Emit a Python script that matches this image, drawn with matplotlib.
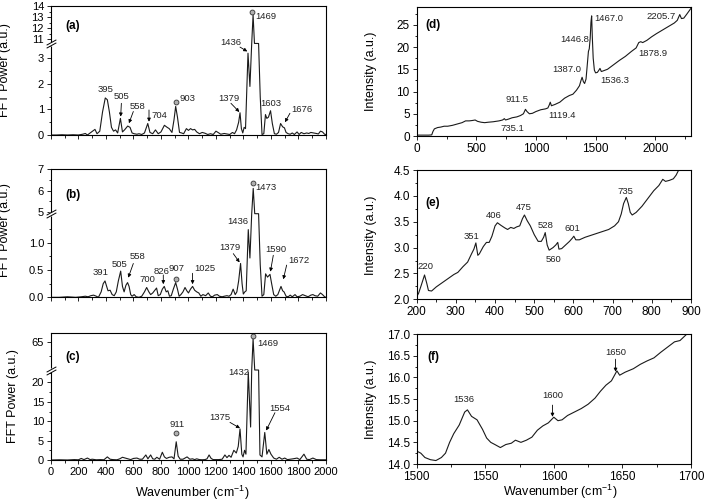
import numpy as np
import matplotlib
matplotlib.use('Agg')
import matplotlib.pyplot as plt
from matplotlib.ticker import MultipleLocator, FixedLocator
from matplotlib.transforms import ScaledTranslation

plt.rcParams['font.family'] = ['Liberation Sans', 'DejaVu Sans']
plt.rcParams['mathtext.default'] = 'regular'

# ---- FFT power spectra (left column) ----
wn_a = [0, 40, 80, 120, 160, 200, 230, 250, 265, 290, 320, 335, 355, 375, 395, 410, 425, 440,
        455, 470, 485, 505, 520, 535, 558, 575, 590, 605, 625, 640, 660, 680, 704, 720, 740,
        760, 780, 800, 825, 845, 860, 880, 895, 907, 920, 935, 950, 965, 985, 1000, 1015, 1030,
        1045, 1060, 1080, 1100, 1120, 1140, 1160, 1180, 1200, 1215, 1235, 1260, 1280, 1300,
        1320, 1335, 1350, 1365, 1375, 1385, 1395, 1405, 1415, 1433, 1447, 1460, 1470, 1480,
        1495, 1510, 1522, 1535, 1548, 1560, 1570, 1582, 1597, 1610, 1625, 1640, 1655, 1670,
        1685, 1698, 1710, 1725, 1740, 1755, 1770, 1790, 1805, 1820, 1840, 1860, 1875, 1890,
        1910, 1930, 1945, 1960, 1975, 1990, 2000]
pw_a = [0.0, 0.0, 0.01, 0.0, 0.01, 0.0, 0.03, 0.06, 0.0, 0.1, 0.22, 0.05, 0.15, 0.9, 1.45, 1.38,
        0.9, 0.3, 0.15, 0.2, 0.08, 0.65, 0.12, 0.2, 0.35, 0.3, 0.08, 0.05, 0.03, 0.05, 0.02,
        0.08, 0.45, 0.1, 0.05, 0.2, 0.05, 0.12, 0.38, 0.3, 0.25, 0.1, 0.6, 1.12, 0.7, 0.1,
        0.08, 0.05, 0.25, 0.18, 0.25, 0.2, 0.22, 0.12, 0.05, 0.1, 0.07, 0.02, 0.05, 0.02,
        0.15, 0.1, 0.03, 0.06, 0.04, 0.02, 0.1, 0.05, 0.2, 0.5, 0.87, 0.25, 0.08, 0.3, 0.25,
        3.2, 1.9, 5.5, 13.2, 8.0, 6.0, 4.5, 1.5, 0.02, 0.05, 0.8, 0.65, 0.7, 0.95, 0.45, 0.05,
        0.03, 0.1, 0.45, 0.32, 0.28, 0.1, 0.05, 0.03, 0.08, 0.02, 0.12, 0.02, 0.1, 0.05, 0.08,
        0.06, 0.1, 0.08, 0.06, 0.04, 0.15, 0.12, 0.03, 0.02]

wn_b = [0, 60, 120, 180, 220, 250, 270, 290, 310, 330, 345, 365, 380, 393, 405, 415, 430, 445,
        460, 475, 490, 507, 520, 532, 545, 557, 568, 580, 590, 605, 620, 640, 660, 680, 696,
        712, 725, 740, 768, 780, 795, 810, 824, 838, 850, 862, 875, 890, 907, 920, 932, 945,
        960, 975, 988, 1000, 1015, 1030, 1045, 1060, 1075, 1090, 1105, 1125, 1144, 1160, 1175,
        1190, 1210, 1225, 1245, 1260, 1280, 1295, 1310, 1325, 1340, 1352, 1365, 1379, 1390,
        1399, 1410, 1420, 1435, 1447, 1460, 1471, 1482, 1495, 1510, 1522, 1535, 1548, 1561,
        1575, 1593, 1605, 1620, 1635, 1650, 1673, 1685, 1695, 1710, 1725, 1740, 1755, 1775,
        1790, 1810, 1830, 1850, 1870, 1890, 1905, 1920, 1940, 1960, 1975, 1990, 2000]
pw_b = [0.0, 0.0, 0.01, 0.0, 0.01, 0.02, 0.01, 0.03, 0.04, 0.02, 0.0, 0.1, 0.25, 0.3, 0.2, 0.12,
        0.13, 0.05, 0.03, 0.1, 0.3, 0.48, 0.2, 0.1, 0.22, 0.27, 0.2, 0.05, 0.02, 0.05, 0.01,
        0.0, 0.02, 0.1, 0.18, 0.1, 0.05, 0.08, 0.17, 0.03, 0.05, 0.15, 0.2, 0.1, 0.12, 0.02,
        0.03, 0.15, 0.27, 0.15, 0.02, 0.05, 0.1, 0.18, 0.12, 0.08, 0.15, 0.2, 0.13, 0.1, 0.08,
        0.02, 0.05, 0.03, 0.08, 0.02, 0.01, 0.04, 0.05, 0.02, 0.01, 0.02, 0.03, 0.02, 0.05,
        0.15, 0.05, 0.1, 0.3, 0.62, 0.25, 0.06, 0.1, 0.12, 1.24, 0.72, 3.0, 6.1, 4.0, 3.0,
        2.5, 0.6, 0.02, 0.05, 0.43, 0.37, 0.42, 0.25, 0.05, 0.02, 0.05, 0.2, 0.12, 0.1, 0.02,
        0.01, 0.04, 0.01, 0.05, 0.01, 0.02, 0.05, 0.03, 0.01, 0.04, 0.05, 0.03, 0.02, 0.08,
        0.05, 0.01, 0.0]

wn_c = [0, 60, 120, 170, 200, 220, 240, 265, 285, 300, 330, 360, 385, 410, 430, 450, 480, 500,
        520, 540, 560, 580, 600, 625, 645, 665, 690, 705, 725, 740, 755, 770, 790, 810, 825,
        840, 860, 880, 895, 911, 925, 940, 960, 990, 1010, 1030, 1045, 1060, 1080, 1100, 1120,
        1135, 1150, 1165, 1180, 1200, 1220, 1245, 1265, 1280, 1295, 1310, 1330, 1348, 1362,
        1375, 1388, 1397, 1408, 1418, 1435, 1452, 1460, 1470, 1482, 1495, 1510, 1520, 1535,
        1555, 1570, 1585, 1600, 1620, 1640, 1660, 1680, 1700, 1720, 1740, 1760, 1790, 1810,
        1840, 1860, 1880, 1905, 1930, 1960, 2000]
pw_c = [0.0, 0.05, 0.0, 0.1, 0.05, 0.4, 0.1, 0.5, 0.1, 0.2, 0.05, 0.1, 0.05, 0.8, 0.2, 0.1, 0.05,
        0.3, 0.7, 0.5, 0.3, 0.1, 0.4, 0.5, 0.2, 0.2, 1.3, 0.3, 1.3, 0.3, 0.2, 0.7, 0.2, 2.0,
        0.8, 0.4, 0.7, 0.8, 0.3, 4.7, 1.0, 0.2, 0.2, 0.8, 0.2, 0.3, 0.1, 0.3, 0.1, 0.05, 0.1,
        0.3, 1.3, 0.4, 0.1, 0.1, 0.1, 0.2, 1.3, 0.6, 1.2, 0.7, 2.5, 1.8, 3.5, 8.0, 1.5, 0.8,
        2.5, 1.5, 22.7, 8.5, 30.0, 65.6, 40.0, 35.0, 25.0, 1.3, 0.8, 7.1, 1.5, 2.7, 1.5, 0.5,
        0.2, 0.7, 0.2, 0.5, 0.1, 0.2, 0.3, 0.5, 0.1, 1.5, 0.2, 0.1, 0.5, 0.1, 0.05, 0.05]

# ---- Raman intensity (right column) ----
wn_d = [0, 50, 100, 126, 136, 148, 175, 200, 230, 260, 300, 340, 380, 410, 440, 470, 490, 510,
        540, 570, 600, 640, 690, 720, 735, 745, 770, 800, 840, 870, 895, 912, 925, 945, 970,
        1000, 1040, 1080, 1100, 1112, 1120, 1130, 1160, 1200, 1240, 1280, 1310, 1340, 1365,
        1378, 1387, 1398, 1408, 1420, 1432, 1440, 1447, 1455, 1461, 1467, 1473, 1480, 1490,
        1500, 1515, 1528, 1537, 1548, 1560, 1600, 1650, 1700, 1750, 1800, 1840, 1862, 1879,
        1895, 1930, 1970, 2010, 2060, 2110, 2160, 2185, 2206, 2220, 2240, 2265, 2300]
int_d = [0.2, 0.2, 0.2, 0.25, 1.0, 1.6, 1.9, 2.0, 2.2, 2.2, 2.4, 2.7, 3.0, 3.4, 3.4, 3.5, 3.6,
         3.3, 3.1, 3.0, 3.1, 3.2, 3.4, 3.6, 3.9, 3.6, 3.8, 4.1, 4.3, 4.6, 5.0, 6.0, 5.5, 5.0,
         5.1, 5.5, 5.9, 6.1, 6.3, 7.0, 7.6, 6.8, 7.1, 7.6, 8.5, 9.1, 9.4, 10.3, 11.3, 12.5,
         13.2, 12.2, 11.8, 12.8, 16.5, 19.0, 19.6, 22.0, 25.5, 27.0, 22.0, 17.5, 14.8, 14.2,
         14.3, 14.8, 15.2, 14.5, 14.6, 15.0, 16.0, 17.0, 17.9, 19.0, 19.8, 21.0, 21.2, 21.0,
         21.5, 22.3, 23.0, 23.8, 24.6, 25.4, 26.0, 27.3, 26.4, 26.5, 27.4, 28.7]

wn_e = [200, 205, 212, 220, 226, 230, 238, 250, 265, 280, 295, 305, 318, 330, 340, 346, 351,
        356, 360, 370, 378, 385, 392, 400, 406, 415, 425, 432, 440, 448, 455, 463, 470, 475,
        482, 490, 500, 510, 518, 524, 528, 533, 538, 548, 555, 560, 563, 570, 580, 590, 597,
        601, 606, 615, 630, 650, 670, 690, 705, 715, 722, 728, 735, 740, 745, 750, 760, 775,
        790, 805, 818, 828, 835, 845, 855, 862, 870]
int_e = [2.05, 2.12, 2.28, 2.47, 2.3, 2.17, 2.16, 2.24, 2.32, 2.4, 2.48, 2.52, 2.63, 2.72, 2.88,
         2.97, 3.09, 2.85, 2.88, 3.02, 3.1, 3.1, 3.22, 3.42, 3.48, 3.43, 3.38, 3.35, 3.39,
         3.37, 3.4, 3.42, 3.56, 3.63, 3.52, 3.42, 3.25, 3.12, 3.12, 3.2, 3.29, 3.05, 2.95,
         3.0, 3.05, 3.1, 2.97, 2.98, 3.05, 3.12, 3.18, 3.22, 3.15, 3.15, 3.2, 3.25, 3.3, 3.35,
         3.42, 3.5, 3.65, 3.85, 3.97, 3.85, 3.68, 3.63, 3.68, 3.8, 3.95, 4.1, 4.2, 4.32, 4.28,
         4.3, 4.33, 4.4, 4.52]

wn_f = [1500, 1503, 1506, 1510, 1514, 1518, 1521, 1524, 1527, 1531, 1535, 1537, 1540, 1544,
        1548, 1551, 1554, 1557, 1561, 1565, 1569, 1572, 1576, 1580, 1584, 1588, 1592, 1596,
        1600, 1603, 1606, 1610, 1615, 1620, 1625, 1630, 1634, 1638, 1642, 1646, 1648, 1652,
        1658, 1663, 1668, 1673, 1678, 1683, 1688, 1692, 1697]
int_f = [14.3, 14.25, 14.15, 14.1, 14.08, 14.15, 14.25, 14.5, 14.7, 14.9, 15.2, 15.25, 15.1,
         15.02, 14.8, 14.6, 14.5, 14.45, 14.38, 14.45, 14.48, 14.55, 14.5, 14.55, 14.62, 14.78,
         14.88, 14.95, 15.08, 15.0, 15.02, 15.12, 15.2, 15.28, 15.38, 15.52, 15.68, 15.82,
         15.92, 16.15, 16.05, 16.12, 16.2, 16.3, 16.38, 16.45, 16.58, 16.7, 16.82, 16.85, 17.0]

# peak labels: (text, x, y)
labels_a = [("395", 400, 1.79), ("505", 514, 1.50), ("558", 628, 1.11), ("704", 788, 0.75),
            ("903", 994, 1.44), ("1379", 1297, 1.41), ("1436", 1309, 10.73),
            ("1469", 1561, 13.06), ("1603", 1598, 1.22), ("1676", 1823, 1.0)]
arrows_a = [((512, 1.24), (507, 0.72)), ((599, 0.92), (567, 0.46)), ((713, 0.98), (713, 0.52)),
            ((1309, 1.24), (1370, 0.9)), ((1375, 3.44), (1428, 3.27)),
            ((1738, 0.85), (1702, 0.5))]
circles_a = [(907, 1.31), (1464, 13.49)]

labels_b = [("391", 361, 0.45), ("505", 502, 0.61), ("558", 628, 0.75), ("700", 700, 0.32),
            ("826", 801, 0.48), ("907", 916, 0.52), ("1025", 1120, 0.52), ("1379", 1302, 0.92),
            ("1436", 1362, 1.39), ("1473", 1561, 6.15), ("1590", 1634, 0.88),
            ("1672", 1804, 0.68)]
arrows_b = [((599, 0.62), (562, 0.36)), ((817, 0.41), (817, 0.24)), ((1030, 0.44), (1030, 0.24)),
            ((1326, 0.8), (1372, 0.64)), ((1617, 0.77), (1596, 0.47)),
            ((1714, 0.59), (1690, 0.33))]
circles_b = [(909, 0.34), (1471, 6.35)]

labels_c = [("911", 914, 9.05), ("1375", 1229, 10.9), ("1432", 1370, 22.6),
            ("1469", 1580, 64.7), ("1554", 1665, 13.3)]
arrows_c = [((1302, 9.7), (1375, 8.2)), ((1629, 12.2), (1565, 7.6))]
circles_c = [(911, 7.0), (1470, 66.2)]

labels_d = [("911.5", 839, 8.1), ("735.1", 803, 1.73), ("1119.4", 1222, 4.6),
            ("1387.0", 1259, 15.0), ("1446.8", 1323, 21.6), ("1467.0", 1614, 26.5),
            ("1536.3", 1664, 12.5), ("1878.9", 1980, 18.6), ("2205.7", 2050, 26.9)]
labels_e = [("220", 223, 2.63), ("351", 340, 3.21), ("406", 396, 3.63), ("475", 474, 3.77),
            ("528", 529, 3.42), ("560", 549, 2.77), ("601", 597, 3.36), ("735", 733, 4.09)]
labels_f = [("1536", 1534, 15.5), ("1600", 1599, 15.59), ("1650", 1645, 16.57)]
arrows_f = [((1599, 15.36), (1599, 15.09)), ((1645, 16.42), (1645, 16.13))]


def break_scale(lo, hi, k, eps=1e-3):
    g = lo + (hi - lo) * eps

    def fwd(y):
        y = np.asarray(y, dtype=float)
        return np.where(y <= lo, y, np.where(y < hi, lo + (y - lo) * eps, g + (y - hi) * k))

    def inv(v):
        v = np.asarray(v, dtype=float)
        return np.where(v <= lo, v, np.where(v < g, lo + (v - lo) / eps, hi + (v - g) / k))
    return fwd, inv


fig = plt.figure(figsize=(7.04, 5.03), dpi=100)


def style(ax, size=8):
    for s in ax.spines.values():
        s.set_linewidth(0.8)
    ax.tick_params(which='both', direction='out', top=False, right=False, width=0.6,
                   labelsize=size, pad=2)
    ax.tick_params(which='major', length=3)
    ax.tick_params(which='minor', length=1.8)


def add_break(ax, y):
    tr = ax.get_yaxis_transform()
    ax.plot([0], [y], marker='s', ms=2.4, mfc='white', mec='none', transform=tr,
            clip_on=False, zorder=5)
    for dy in (-1.1, 1.1):
        t = tr + ScaledTranslation(0, dy / 72, fig.dpi_scale_trans)
        ax.plot([0], [y], marker=[(-1, -0.55), (1, 0.55)], ms=7, mec='k', mew=0.7,
                transform=t, clip_on=False, zorder=6)


def mark(ax, labels, arrows=(), circles=(), fs=6.8):
    for txt, x, y in labels:
        ax.text(x, y, txt, fontsize=fs, ha='center', va='center', color='#222222')
    for tail, head in arrows:
        ax.annotate('', xy=head, xytext=tail,
                    arrowprops=dict(arrowstyle='-|>', color='k', lw=0.6, mutation_scale=5,
                                    shrinkA=0, shrinkB=0))
    for x, y in circles:
        ax.plot(x, y, 'o', ms=3.5, mfc='#b0b0b0', mec='#333333', mew=0.6, clip_on=False)


def panel_tag(ax, tag, x, y):
    ax.text(x, y, tag, transform=ax.transAxes, fontsize=8.5, fontweight='bold',
            ha='center', va='center')


lw = 0.8
lc = '#1a1a1a'

# (a)
ax = fig.add_axes([0.0724, 0.7316, 0.3906, 0.2565])
ax.set_yscale('function', functions=break_scale(3.58, 10.64, 0.435))
ax.plot(wn_a, pw_a, color=lc, lw=lw)
ax.set_xlim(0, 2000)
ax.set_ylim(0, 14)
ax.yaxis.set_major_locator(FixedLocator([0, 1, 2, 3, 11, 12, 13, 14]))
ax.yaxis.set_minor_locator(FixedLocator([0.5, 1.5, 2.5, 3.5, 11.5, 12.5, 13.5]))
ax.set_yticklabels(['0', '1', '2', '3', '11', '12', '13', '14'])
ax.xaxis.set_major_locator(MultipleLocator(200))
ax.xaxis.set_minor_locator(MultipleLocator(100))
style(ax)
ax.tick_params(labelbottom=False)
add_break(ax, 3.58)
mark(ax, labels_a, arrows_a, circles_a)
panel_tag(ax, '(a)', 0.08, 0.845)

# (b)
ax = fig.add_axes([0.0724, 0.4089, 0.3906, 0.2551])
ax.set_yscale('function', functions=break_scale(1.53, 4.93, 0.3945))
ax.plot(wn_b, pw_b, color=lc, lw=lw)
ax.set_xlim(0, 2000)
ax.set_ylim(0, 7)
ax.yaxis.set_major_locator(FixedLocator([0, 0.5, 1.0, 5, 6, 7]))
ax.yaxis.set_minor_locator(FixedLocator([0.25, 0.75, 1.25, 5.5, 6.5]))
ax.set_yticklabels(['0.0', '0.5', '1.0', '5', '6', '7'])
ax.xaxis.set_major_locator(MultipleLocator(200))
ax.xaxis.set_minor_locator(MultipleLocator(100))
style(ax)
ax.tick_params(labelbottom=False)
add_break(ax, 1.53)
mark(ax, labels_b, arrows_b, circles_b)
panel_tag(ax, '(b)', 0.08, 0.797)

# (c)
ax = fig.add_axes([0.0724, 0.0855, 0.3906, 0.2531])
ax.set_yscale('function', functions=break_scale(23.2, 60.1, 1.4545))
ax.plot(wn_c, pw_c, color=lc, lw=lw)
ax.set_xlim(0, 2000)
ax.set_ylim(0, 66.7)
ax.yaxis.set_major_locator(FixedLocator([0, 5, 10, 15, 20, 65]))
ax.yaxis.set_minor_locator(FixedLocator([2.5, 7.5, 12.5, 17.5, 22.5, 62.5]))
ax.set_yticklabels(['0', '5', '10', '15', '20', '65'])
ax.xaxis.set_major_locator(MultipleLocator(200))
ax.xaxis.set_minor_locator(MultipleLocator(100))
style(ax)
add_break(ax, 23.2)
mark(ax, labels_c, arrows_c, circles_c)
panel_tag(ax, '(c)', 0.08, 0.81)

# (d)
ax = fig.add_axes([0.5919, 0.7296, 0.3896, 0.2565])
ax.plot(wn_d, int_d, color=lc, lw=lw)
ax.set_xlim(0, 2300)
ax.set_ylim(0, 29)
ax.xaxis.set_major_locator(MultipleLocator(500))
ax.xaxis.set_minor_locator(MultipleLocator(250))
ax.yaxis.set_major_locator(MultipleLocator(5))
ax.yaxis.set_minor_locator(MultipleLocator(2.5))
style(ax, 8.5)
mark(ax, labels_d)
panel_tag(ax, '(d)', 0.06, 0.86)

# (e)
ax = fig.add_axes([0.5919, 0.405, 0.3896, 0.257])
ax.plot(wn_e, int_e, color=lc, lw=lw)
ax.set_xlim(200, 900)
ax.set_ylim(2.0, 4.5)
ax.xaxis.set_major_locator(MultipleLocator(100))
ax.xaxis.set_minor_locator(MultipleLocator(50))
ax.yaxis.set_major_locator(MultipleLocator(0.5))
ax.yaxis.set_minor_locator(MultipleLocator(0.25))
style(ax, 8.5)
mark(ax, labels_e)
panel_tag(ax, '(e)', 0.06, 0.745)

# (f)
ax = fig.add_axes([0.5919, 0.0775, 0.3896, 0.2584])
ax.plot(wn_f, int_f, color=lc, lw=lw)
ax.set_xlim(1500, 1700)
ax.set_ylim(14.0, 17.0)
ax.xaxis.set_major_locator(MultipleLocator(50))
ax.xaxis.set_minor_locator(MultipleLocator(25))
ax.yaxis.set_major_locator(MultipleLocator(0.5))
ax.yaxis.set_minor_locator(MultipleLocator(0.25))
style(ax, 8.5)
mark(ax, labels_f, arrows_f)
panel_tag(ax, '(f)', 0.06, 0.823)

# axis titles
for x, y in [(5, 70), (5, 230), (13, 396)]:
    fig.text(x / 704, 1 - y / 503, 'FFT Power (a.u.)', rotation=90, fontsize=9,
             ha='center', va='center')
for y in [71, 235, 399]:
    fig.text(371 / 704, 1 - y / 503, 'Intensity (a.u.)', rotation=90, fontsize=9,
             ha='center', va='center')
fig.text(192 / 704, 1 - 493 / 503, 'Wavenumber (cm$^{-1}$)', fontsize=9, ha='center',
         va='center')
fig.text(560 / 704, 1 - 492 / 503, 'Wavenumber (cm$^{-1}$)', fontsize=9, ha='center',
         va='center')

fig.savefig('out.png', dpi=100)
